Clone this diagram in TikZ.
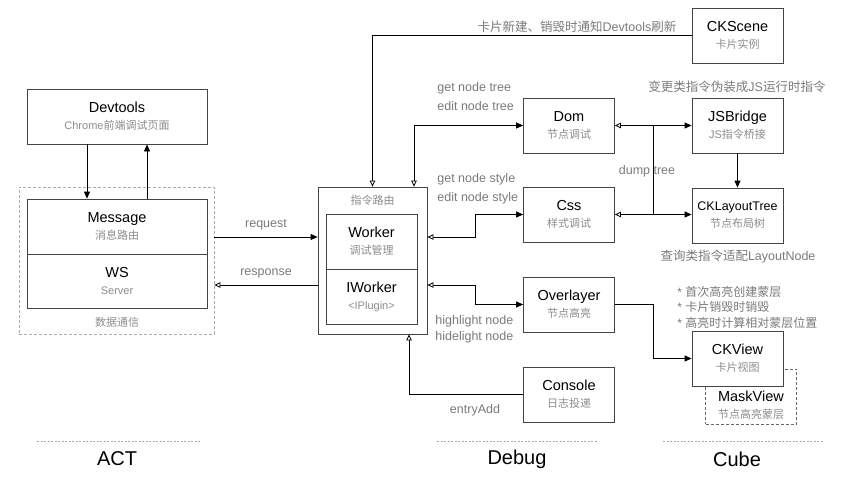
\documentclass[tikz,border=0pt]{standalone}
\usepackage{fontspec}
\setmainfont{Liberation Sans}
\newfontfamily\cjk{Noto Sans CJK SC}
\usetikzlibrary{arrows.meta}
\definecolor{boxline}{HTML}{444444}
\definecolor{subgray}{HTML}{8C8C8C}
\definecolor{labelgray}{HTML}{7A7A7A}
\definecolor{dashgray}{HTML}{AAAAAA}
\newcommand{\subt}[1]{{\fontsize{11}{13}\selectfont\color{subgray}#1}}

\begin{document}
\begin{tikzpicture}[x=1pt,y=-1pt,line width=0.8pt,
  >={Triangle[length=7pt,width=6pt]},
  otri/.tip={Triangle[open,length=6pt,width=5.5pt]},
  box/.style={draw=boxline,fill=white,minimum width=91pt,minimum height=55pt,inner sep=0pt,align=center,font=\fontsize{14.5}{17}\selectfont},
  groupbox/.style={draw=dashgray,dashed,dash pattern=on 3pt off 2pt,inner sep=0pt},
  lbl/.style={text=labelgray,inner sep=0pt,align=left,font=\fontsize{12.5}{18.7}\selectfont},
  sublbl/.style={text=subgray,inner sep=0pt,font=\fontsize{11}{13}\selectfont},
  part/.style={inner sep=0pt,font=\fontsize{20}{24}\selectfont}]
\useasboundingbox (0,0) rectangle (863,479);

\node[box,minimum width=180pt] (devtools) at (117,116.5) {Devtools\\\subt{Chrome{\cjk 前端调试页面}}};
\node[groupbox,minimum width=195pt,minimum height=147pt] (act) at (116.5,260.5) {};
\node[box,minimum width=180pt] (message) at (117,226.5) {Message\\\subt{\cjk 消息路由}};
\node[box,minimum width=180pt,minimum height=54pt] (ws) at (117,281) {WS\\\subt{Server}};
\node[sublbl] (actlbl) at (117,322) {\cjk 数据通信};

\node[box,minimum width=109pt,minimum height=147pt] (router) at (372.5,260.5) {};
\node[sublbl] (routerlbl) at (372.5,200) {\cjk 指令路由};
\node[box] (worker) at (371.5,241.5) {Worker\\\subt{\cjk 调试管理}};
\node[box] (iworker) at (371.5,296.5) {IWorker\\\subt{<IPlugin>}};

\node[box] (dom) at (569,125.5) {Dom\\\subt{\cjk 节点调试}};
\node[box] (css) at (569,214.5) {Css\\\subt{\cjk 样式调试}};
\node[box] (overlayer) at (569,304.5) {Overlayer\\\subt{\cjk 节点高亮}};
\node[box] (console) at (569,394.5) {Console\\\subt{\cjk 日志投递}};

\node[box] (ckscene) at (737.5,35.5) {CKScene\\\subt{\cjk 卡片实例}};
\node[box] (jsbridge) at (737.5,125.5) {JSBridge\\\subt{JS{\cjk 指令桥接}}};
\node[box,font=\fontsize{12.5}{17}\selectfont] (cklayout) at (737.5,215.5) {CKLayoutTree\\\subt{\cjk 节点布局树}};
\node[box,draw=boxline!80,dashed,dash pattern=on 3pt off 2pt] (mask) at (751,396.5) {};
\node[box,draw=none,fill=none] (masktext) at (751,405) {MaskView\\\subt{\cjk 节点高亮蒙层}};
\node[box] (ckview) at (737.5,358.5) {CKView\\\subt{\cjk 卡片视图}};

\node[lbl] (notifylbl) at (577,27) {{\cjk 卡片新建、销毁时通知}Devtools{\cjk 刷新}};
\node[lbl,anchor=west] (treelbl) at (437,96.5) {get node tree\\edit node tree};
\node[lbl,anchor=west] (stylelbl) at (437,189) {get node style\\edit node style};
\node[lbl,anchor=west,font=\fontsize{12.5}{15.6}\selectfont] (lightlbl) at (435,329.5) {highlight node\\hidelight node};
\node[lbl] (entrylbl) at (475,410) {entryAdd};
\node[lbl] (dumplbl) at (647,171) {dump tree};
\node[lbl] (changelbl) at (737,87) {{\cjk 变更类指令伪装成}JS{\cjk 运行时指令}};
\node[lbl] (querylbl) at (738,257) {{\cjk 查询类指令适配}LayoutNode};
\node[lbl,anchor=west,font=\fontsize{12}{15.5}\selectfont] (notelbl) at (677,307) {* {\cjk 首次高亮创建蒙层}\\* {\cjk 卡片销毁时销毁}\\* {\cjk 高亮时计算相对蒙层位置}};

\coordinate (dumpx) at (653,0);
\draw[->] (devtools.south -| 87,0) -- (message.north -| 87,0);
\draw[->] (message.north -| 147,0) -- (devtools.south -| 147,0);
\draw[->] (act.east |- 0,237) -- node[lbl,above=7pt] (reqlbl) {request} (router.west |- 0,237);
\draw[otri-] (act.east |- 0,285) -- node[lbl,above=7pt] (resplbl) {response} (router.west |- 0,285);
\draw[-otri] (ckscene.west) -| (router.north);
\draw[otri->] (router.north -| 414,0) |- (dom.west);
\draw[otri->] (router.east |- 0,237) -- (475,237) |- (css.west);
\draw[otri->] (router.east |- 0,285) -- (475,285) |- (overlayer.west);
\draw[-otri] (console.west) -| (router.south -| 409,0);
\draw[otri->] (dom.east) -- (jsbridge.west);
\draw[otri->] (css.east) -- (css.east -| cklayout.west);
\draw (dom.east -| dumpx) -- (css.east -| dumpx);
\draw[->] (jsbridge.south) -- (cklayout.north);
\draw[->] (overlayer.east) -- (overlayer.east -| dumpx) |- (ckview.west);

\node[part] (actpart) at (117,459) {ACT};
\node[part] (debugpart) at (517,459) {Debug};
\node[part] (cubepart) at (737,459) {Cube};
\draw[dashgray,line width=0.6pt,dashed,dash pattern=on 2pt off 1.5pt] (37,441) -- (200,441);
\draw[dashgray,line width=0.6pt,dashed,dash pattern=on 2pt off 1.5pt] (437,441) -- (597,441);
\draw[dashgray,line width=0.6pt,dashed,dash pattern=on 2pt off 1.5pt] (663,441) -- (823,441);
\end{tikzpicture}
\end{document}
